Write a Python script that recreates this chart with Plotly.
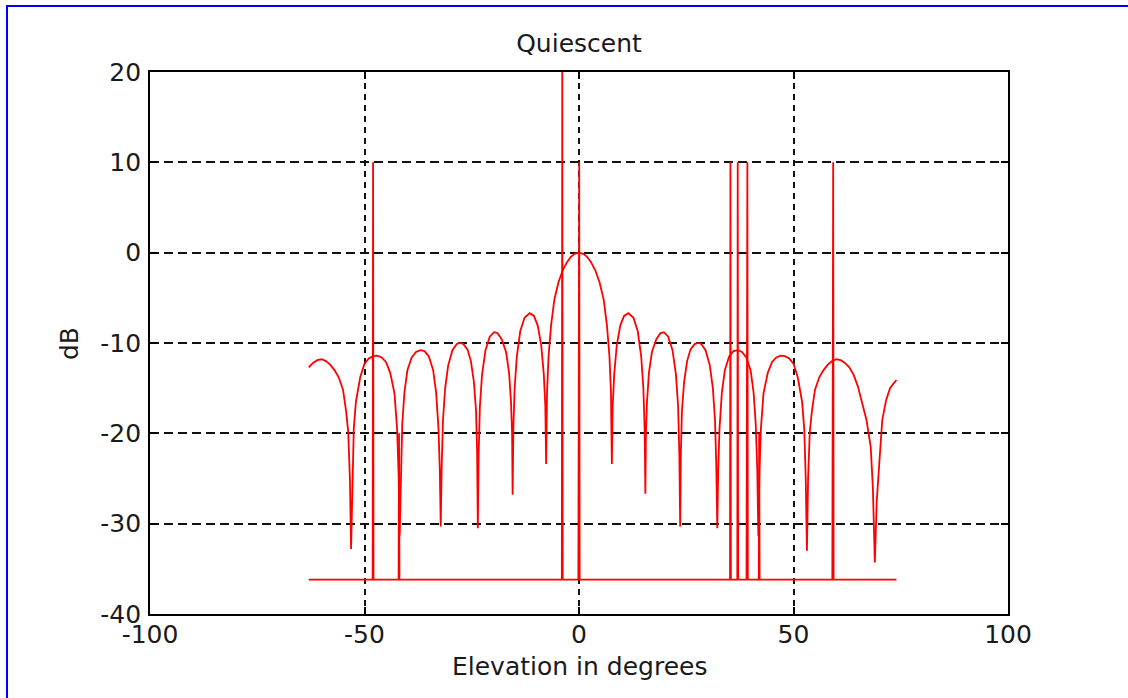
import plotly.graph_objects as go

# ---- Quiescent array pattern ----
elev_deg = [
    -63, -62, -61, -60, -59, -58, -57, -56, -55, -54.3, -53.8, -53.4, -53.13,
    -52.85, -52.5, -52.0, -51, -50, -49, -48, -47, -46, -45, -44, -43, -42.4, -42.05, -41.81,
    -41.55, -41.2, -40.7, -40, -39, -38, -37, -36, -35, -34, -33.3, -32.75, -32.45, -32.23,
    -32.0, -31.7, -31.2, -30.5, -29.5, -28.5, -27.8, -27, -26, -25.2, -24.5, -24.0, -23.75, -23.58,
    -23.4, -23.1, -22.6, -21.8, -20.8, -19.8, -19.0, -18.0, -17.0, -16.3, -15.85, -15.6, -15.47,
    -15.3, -15.0, -14.5, -13.7, -12.7, -11.5, -10.5, -9.6, -8.8, -8.2, -7.85, -7.66,
    -7.45, -7.1, -6.5, -5.75, -4.8, -3.8, -2.8, -1.9, -1.0, 0, 1.0, 1.9, 2.8, 3.8, 4.8, 5.75, 6.5, 7.1, 7.45, 7.66,
    7.85, 8.2, 8.8, 9.6, 10.5, 11.5, 12.7, 13.7, 14.5, 15.0, 15.3, 15.47,
    15.6, 15.85, 16.3, 17.0, 18.0, 19.0, 19.8, 20.8, 21.8, 22.6, 23.1, 23.4, 23.58,
    23.75, 24.0, 24.5, 25.2, 26, 27, 27.8, 28.5, 29.5, 30.5, 31.2, 31.7, 32.0, 32.23,
    32.45, 32.75, 33.3, 34, 35, 36, 37, 38, 39, 40, 40.7, 41.2, 41.55, 41.81,
    42.05, 42.4, 43, 44, 45, 46, 47, 48, 49, 50, 51, 52, 52.5, 52.85, 53.13,
    53.4, 53.8, 54.3, 55, 56, 57, 58, 59, 60, 61, 62, 63, 64, 65, 66, 67, 68, 68.5, 68.96,
    69.4, 70.2, 70.7, 71.6, 72.5, 73.3, 74.0,
]
pattern_db = [
    -12.7, -12.2, -11.9, -11.8, -12.0, -12.4, -13.0, -13.8, -15.2, -17.5, -19.8, -25.0, -32.8,
    -25.0, -19.5, -16.5, -13.8, -12.3, -11.7, -11.45, -11.4, -11.6, -12.1, -13.3, -15.6, -19.5, -24.5, -31.3,
    -24.0, -19.0, -15.5, -13.0, -11.6, -11.0, -10.8, -10.9, -11.5, -13.0, -15.5, -19.5, -24.0, -30.3,
    -23.5, -18.5, -15.0, -12.5, -10.8, -10.1, -10.0, -10.1, -10.7, -12.0, -14.3, -17.5, -22.0, -30.5,
    -22.5, -17.0, -13.5, -10.8, -9.3, -8.8, -8.9, -9.6, -11.0, -13.3, -16.5, -20.0, -26.8,
    -19.5, -15.0, -11.5, -8.7, -7.2, -6.7, -7.0, -8.1, -10.3, -13.5, -17.0, -23.4,
    -15.5, -11.5, -8.0, -5.2, -3.3, -1.95, -1.05, -0.46, -0.13, 0.0, -0.13, -0.46, -1.05, -1.95, -3.3, -5.2, -8.0, -11.5, -15.5, -23.4,
    -17.0, -13.5, -10.3, -8.1, -7.0, -6.7, -7.2, -8.7, -11.5, -15.0, -19.5, -26.7,
    -20.0, -16.5, -13.3, -11.0, -9.6, -8.9, -8.8, -9.3, -10.8, -13.5, -17.0, -22.5, -30.3,
    -22.0, -17.5, -14.3, -12.0, -10.7, -10.1, -10.0, -10.1, -10.8, -12.5, -15.0, -18.5, -23.5, -30.5,
    -24.0, -19.5, -15.5, -13.0, -11.5, -10.9, -10.8, -11.0, -11.6, -13.0, -15.5, -19.0, -24.0, -31.4,
    -24.5, -19.5, -15.6, -13.3, -12.1, -11.6, -11.4, -11.45, -11.7, -12.3, -13.8, -16.5, -19.5, -25.0, -33.0,
    -25.0, -19.8, -17.5, -15.2, -13.8, -13.0, -12.4, -12.0, -11.8, -11.9, -12.2, -12.7, -13.5, -14.8, -16.5, -18.5, -21.5, -26.0, -34.3,
    -27.5, -21.9, -18.5, -16.3, -15.0, -14.5, -14.1,
]

# ---- Source / jammer markers (baseline with spikes) ----
marker_deg = [
    -63, -48.1, -48.0, -47.9, -42.05, -41.95, -41.85, -4.0, -3.9, -3.8,
    -0.15, -0.05, 0.05, 0.15, 35.2, 35.3, 35.4, 36.9, 37.0, 37.1,
    39.05, 39.15, 39.25, 39.35, 41.9, 42.0, 42.1, 59.05, 59.15, 59.25, 59.35, 74,
]
marker_db = [
    -36.2, -36.2, 10, -36.2, -36.2, -20, -36.2, -36.2, 20, -36.2,
    -36.2, -13, 10, -36.2, -36.2, 10, -36.2, -36.2, 10, -36.2,
    -36.2, -13, 10, -36.2, -36.2, -20, -36.2, -36.2, -12, 10, -36.2, -36.2,
]

x_ticks = [-100, -50, 0, 50, 100]
x_tick_text = ["-100", "-50", "0", "50", "100"]
y_ticks = [-40, -30, -20, -10, 0, 10, 20]
y_tick_text = ["-40", "-30", "-20", "-10", "0", "10", "20"]

FONT = "DejaVu Sans"
FS = 25
TXT = "#1a1a1a"

fig = go.Figure()
fig.add_trace(go.Scatter(x=elev_deg, y=pattern_db, mode="lines",
                         line=dict(color="#ff0000", width=1.8), showlegend=False))
fig.add_trace(go.Scatter(x=marker_deg, y=marker_db, mode="lines",
                         line=dict(color="#ff0000", width=1.8), showlegend=False))

W, H = 1128, 698
L, R, T, B = 150, 120, 72, 84
pw, ph = W - L - R, H - T - B

axis_common = dict(
    showline=True, linecolor="black", linewidth=1.8, mirror="ticks",
    ticks="inside", ticklen=7, tickwidth=1.5, tickcolor="black",
    showgrid=True, gridcolor="#111111", gridwidth=1.6,
    zeroline=False, tickfont=dict(family=FONT, size=FS, color=TXT),
)

fig.update_layout(
    width=W, height=H, autosize=False,
    margin=dict(l=L, r=R, t=T, b=B),
    paper_bgcolor="white", plot_bgcolor="white",
    xaxis=dict(range=[-100, 100], tickvals=x_ticks, ticktext=x_tick_text,
               griddash="6px,5px", ticklabelstandoff=-3, **axis_common),
    yaxis=dict(range=[-40, 20], tickvals=y_ticks, ticktext=y_tick_text,
               griddash="9px,5px", ticklabelstandoff=2, **axis_common),
    title=dict(text="Quiescent", x=0.5, xref="paper", xanchor="center",
               y=1 - 43 / H, yref="container", yanchor="middle",
               font=dict(family=FONT, size=FS, color=TXT)),
    annotations=[
        dict(text="Elevation in degrees", x=0.5, y=(T + ph - 666) / ph,
             xref="paper", yref="paper", xanchor="center", yanchor="middle",
             showarrow=False, font=dict(family=FONT, size=FS, color=TXT)),
        dict(text="dB", x=(69 - L) / pw, y=(T + ph - 344) / ph, textangle=-90,
             xref="paper", yref="paper", xanchor="center", yanchor="middle",
             showarrow=False, font=dict(family=FONT, size=FS, color=TXT)),
    ],
    shapes=[
        dict(type="rect", xref="paper", yref="paper",
             x0=(7 - L) / pw, x1=(W + 10 - L) / pw,
             y0=(T + ph - (H + 10)) / ph, y1=(T + ph - 6) / ph,
             line=dict(color="#0000ff", width=2), fillcolor="rgba(0,0,0,0)"),
    ],
)

fig.write_html("out.html")
